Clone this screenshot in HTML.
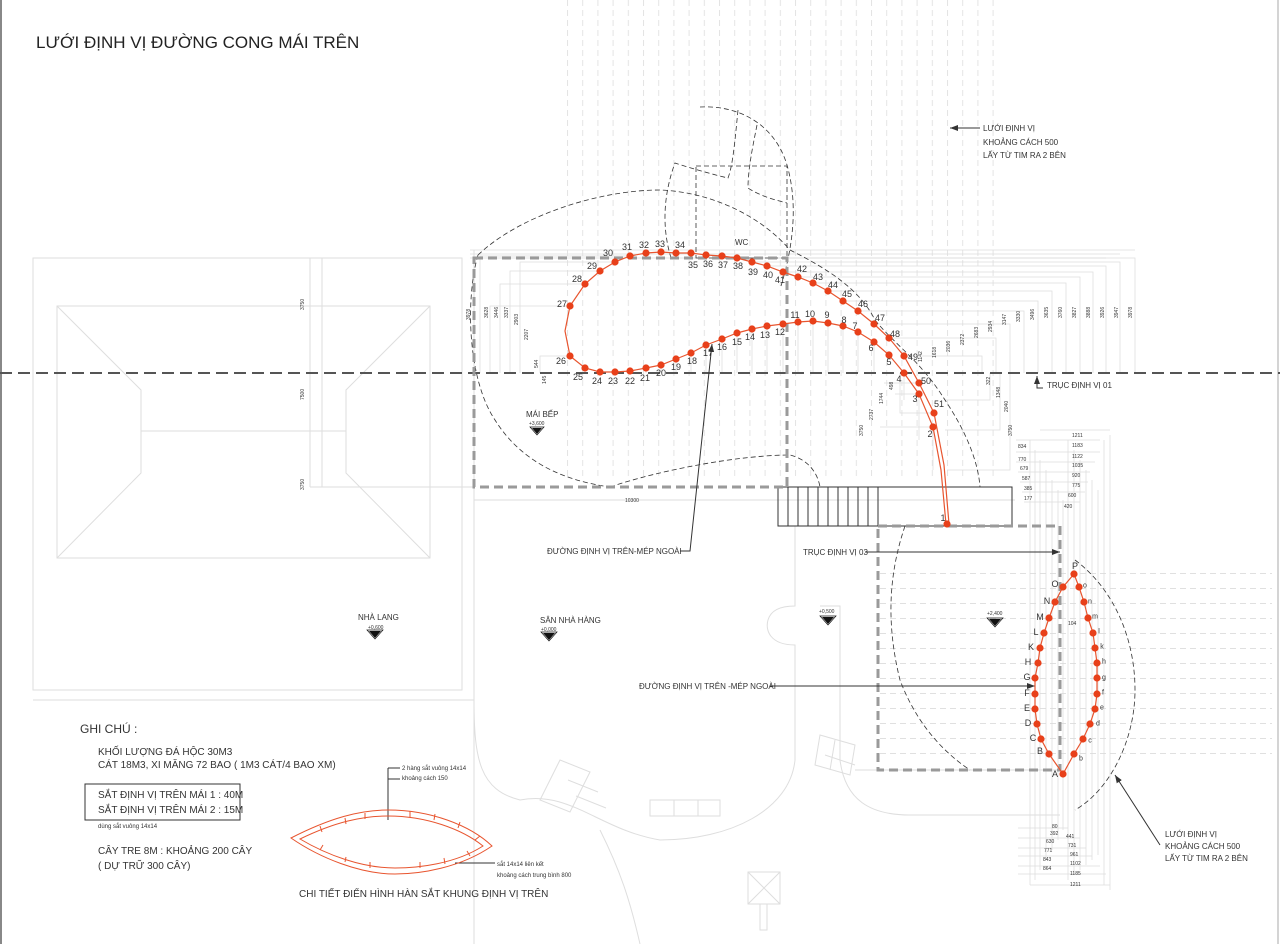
<!DOCTYPE html>
<html><head><meta charset="utf-8"><style>
html,body{margin:0;padding:0;background:#fff}
svg{display:block}
text{font-family:"Liberation Sans",sans-serif;fill:#333}
.s{font-size:9px;text-anchor:middle;dominant-baseline:central;fill:#222}
.t{font-size:5px;fill:#666}
</style></head><body>
<svg width="1280" height="944" viewBox="0 0 1280 944" xmlns="http://www.w3.org/2000/svg">
<defs>
<pattern id="vg" x="567" y="0" width="15.2" height="10" patternUnits="userSpaceOnUse">
<line x1="0.5" y1="0" x2="0.5" y2="6" stroke="#e4e4e4" stroke-width="1"/></pattern>
<pattern id="hg" x="0" y="573" width="10" height="15" patternUnits="userSpaceOnUse">
<line x1="0" y1="0.5" x2="6" y2="0.5" stroke="#e0e0e0" stroke-width="1"/></pattern>
<marker id="ar" markerWidth="8" markerHeight="6" refX="8" refY="3" orient="auto"><path d="M0,0 L8,3 L0,6 z" fill="#333"/></marker>
</defs>
<rect width="1280" height="944" fill="#fff"/>
<line x1="1" y1="0" x2="1" y2="944" stroke="#888" stroke-width="2"/>
<line x1="1278" y1="0" x2="1278" y2="944" stroke="#aaa" stroke-width="1"/>

<rect x="567" y="0" width="437" height="480" fill="url(#vg)"/>
<rect x="880" y="573" width="392" height="185" fill="url(#hg)"/>

<g fill="none" stroke="#dedede" stroke-width="1">
<rect x="33" y="258" width="429" height="432"/>
<polyline points="33,700 474,700"/>
<line x1="474" y1="250" x2="474" y2="944"/>
<rect x="57" y="306" width="373" height="252"/>
<polyline points="57,306 141,390 141,473 57,558"/>
<polyline points="430,306 346,390 346,473 430,558"/>
<line x1="141" y1="431" x2="346" y2="431"/>
<line x1="310" y1="258" x2="310" y2="487"/><line x1="322" y1="258" x2="322" y2="487"/>
<line x1="310" y1="487" x2="474" y2="487"/>
<line x1="474" y1="500" x2="1015" y2="500"/>
<path d="M474,700 C474,760 480,790 520,800 C570,790 600,830 660,840 C730,840 790,810 795,760 L795,645 C770,645 765,630 768,620 C772,606 790,606 795,606 L795,526"/>
<path d="M790,526 L795,526 M840,645 L840,760 C845,800 870,815 910,815 L1060,815"/>
<path d="M820,606 L840,606 L840,645"/>
<path d="M600,830 C620,870 630,900 640,944"/>
<path d="M560,760 l30,12 l-20,40 l-30,-12 z M568,780 l30,12 M576,796 l30,12"/>
<path d="M650,800 l70,0 l0,16 l-70,0 z M674,800 v16 M698,800 v16"/>
<path d="M820,735 l35,10 l-5,30 l-35,-10 z M835,740 l-5,30 M825,755 l30,10"/>
<rect x="748" y="872" width="32" height="32"/><path d="M748,872 L780,904 M780,872 L748,904"/>
<rect x="760" y="904" width="7" height="26"/>
<line x1="855" y1="770" x2="1060" y2="770"/>
</g>

<g fill="none" stroke="#dcdcdc" stroke-width="0.7">
<line x1="470" y1="250" x2="1135" y2="250"/>
<line x1="470" y1="254" x2="1120" y2="254"/>
<line x1="470" y1="258" x2="1106" y2="258"/>
<path d="M783,272 H1093 V373 M798,277 H1080 V373 M813,283 H1066 V373 M828,291 H1052 V373 M843,301 H1038 V373 M858,311 H1024 V373 M874,324 H1010 V373 M889,338 H996 V373 M904,356 H982 V373 M767,266 H1106 V373 M752,262 H1120 V373 M737,258 H1135 V373"/>
<path d="M919,383 H884 M934,413 H900 V373 M933,427 H880 M919,394 H895 M904,373 V400 M919,394 V440 M933,427 V470"/>
<path d="M945,400 H990 V373 M945,430 H1000 V373 M947,470 H1010 V373"/>
<path d="M600,271 H510 V373 M585,284 H500 V373 M570,306 H490 V373 M615,262 H520 V373 M570,356 H540 V373 M630,256 H480 V373"/>
<path d="M646,368 V373 M661,365 V373 M676,359 V373 M691,353 V373 M706,345 V373 M722,339 V373 M737,333 V373 M752,329 V373 M767,326 V373 M783,324 V373 M798,322 V373 M813,321 V373 M828,323 V373 M843,326 V373 M858,332 V373 M874,342 V373"/>
<path d="M1030,440 V885 M1035,450 V880 M1040,460 V870 M1046,470 V860 M1052,480 V850 M1058,490 V840 M1063,500 V830 M1068,440 V880 M1074,450 V875 M1080,460 V870 M1086,470 V865 M1092,480 V860 M1098,490 V855 M1104,440 V885 M1110,435 V890"/>
<path d="M1016,440 H1100 M1016,452 H1100 M1016,462 H1095 M1018,472 H1090 M1020,482 H1088 M1022,492 H1085 M1024,502 H1080 M1018,828 H1068 M1018,838 H1080 M1018,848 H1086 M1018,856 H1092 M1018,866 H1100 M1018,874 H1106 M1030,885 H1110"/>
<line x1="1040" y1="430" x2="1110" y2="430"/>
</g>
<g class="t">
<text x="1018" y="448">834</text><text x="1072" y="437">1211</text><text x="1072" y="447">1183</text>
<text x="1018" y="461">770</text><text x="1072" y="458">1122</text><text x="1020" y="470">679</text>
<text x="1072" y="467">1035</text><text x="1022" y="480">587</text><text x="1072" y="477">920</text>
<text x="1024" y="490">385</text><text x="1072" y="487">775</text><text x="1024" y="500">177</text>
<text x="1068" y="497">600</text><text x="1064" y="508">420</text>
<text x="1052" y="828">80</text><text x="1050" y="835">392</text><text x="1046" y="843">630</text>
<text x="1044" y="852">771</text><text x="1043" y="861">843</text><text x="1043" y="870">864</text>
<text x="1066" y="838">441</text><text x="1068" y="847">731</text><text x="1070" y="856">961</text>
<text x="1070" y="865">1102</text><text x="1070" y="875">1185</text><text x="1070" y="886">1211</text>
<text x="625" y="502">10300</text><text x="1068" y="625">104</text>
<text transform="translate(304,310) rotate(-90)">3750</text>
<text transform="translate(304,400) rotate(-90)">7500</text>
<text transform="translate(304,490) rotate(-90)">3750</text>
<text transform="translate(470,320) rotate(-90)">3978</text>
<text transform="translate(488,318) rotate(-90)">3628</text>
<text transform="translate(498,318) rotate(-90)">3446</text>
<text transform="translate(508,318) rotate(-90)">3337</text>
<text transform="translate(518,325) rotate(-90)">2903</text>
<text transform="translate(528,340) rotate(-90)">2207</text>
<text transform="translate(538,368) rotate(-90)">544</text>
<text transform="translate(546,384) rotate(-90)">145</text>
<text transform="translate(1132,318) rotate(-90)">3978</text>
<text transform="translate(1118,318) rotate(-90)">3947</text>
<text transform="translate(1104,318) rotate(-90)">3926</text>
<text transform="translate(1090,318) rotate(-90)">3888</text>
<text transform="translate(1076,318) rotate(-90)">3827</text>
<text transform="translate(1062,318) rotate(-90)">3760</text>
<text transform="translate(1048,318) rotate(-90)">3635</text>
<text transform="translate(1034,320) rotate(-90)">3496</text>
<text transform="translate(1020,322) rotate(-90)">3330</text>
<text transform="translate(1006,325) rotate(-90)">3147</text>
<text transform="translate(992,332) rotate(-90)">2934</text>
<text transform="translate(978,338) rotate(-90)">2683</text>
<text transform="translate(964,345) rotate(-90)">2372</text>
<text transform="translate(950,352) rotate(-90)">2036</text>
<text transform="translate(936,358) rotate(-90)">1618</text>
<text transform="translate(922,362) rotate(-90)">1142</text>
<text transform="translate(990,385) rotate(-90)">322</text>
<text transform="translate(1000,398) rotate(-90)">1348</text>
<text transform="translate(1008,412) rotate(-90)">2040</text>
<text transform="translate(1012,436) rotate(-90)">3750</text>
<text transform="translate(893,390) rotate(-90)">498</text>
<text transform="translate(883,404) rotate(-90)">1744</text>
<text transform="translate(873,420) rotate(-90)">2737</text>
<text transform="translate(863,436) rotate(-90)">3750</text>
</g>

<g fill="none" stroke="#333" stroke-width="0.8" stroke-dasharray="5 3">
<path d="M478,255 C520,215 600,190 660,190 C710,192 760,215 790,250 C830,270 860,290 875,320 C895,345 920,360 945,400 C965,430 978,460 980,487"/>
<path d="M478,255 C465,300 468,380 495,420 C520,460 560,480 610,487"/>
<path d="M700,107 C740,105 775,125 787,165 C797,200 795,240 781,286"/>
<path d="M738,110 C735,140 733,165 728,178 C715,175 690,168 675,163 C665,190 660,225 672,261"/>
<path d="M757,125 C752,150 748,170 748,188 C760,196 775,200 787,203"/>
<path d="M610,487 C660,470 740,455 790,455 C810,460 818,475 820,487"/>
<path d="M905,526 C890,570 885,620 900,680 C915,720 940,750 970,770"/>
<path d="M1075,560 C1115,590 1135,640 1135,690 C1135,740 1110,790 1075,810"/>
</g>
<rect x="696" y="166" width="91" height="92" fill="none" stroke="#333" stroke-width="0.8" stroke-dasharray="5 3"/>

<g fill="none" stroke="#333" stroke-width="1">
<rect x="778" y="487" width="234" height="39"/>
<path d="M788,487v39M798,487v39M808,487v39M818,487v39M828,487v39M838,487v39M848,487v39M858,487v39M868,487v39M878,487v39"/>
</g>

<line x1="0" y1="373" x2="1280" y2="373" stroke="#555" stroke-width="2" stroke-dasharray="12 6"/>

<g fill="none" stroke="#9a9a9a" stroke-width="3" stroke-dasharray="9 5">
<rect x="474" y="258" width="313" height="229"/>
<rect x="878" y="526" width="182" height="244"/>
</g>

<g fill="none" stroke="#333" stroke-width="1">
<path d="M680,551 H690 L712,344" marker-end="url(#ar)"/>
<path d="M865,552 H1060" marker-end="url(#ar)"/>
<path d="M770,686 H1035" marker-end="url(#ar)"/>
<path d="M980,128 H950" marker-end="url(#ar)"/>
<path d="M1043,388 H1037 V376" marker-end="url(#ar)"/>
<path d="M1160,845 L1115,775" marker-end="url(#ar)"/>
<path d="M388,768 V820 M388,768 H400 M388,779 H400"/>
<path d="M495,863 H455"/>
</g>

<polyline fill="none" stroke="#e8552f" stroke-width="1.2" points="946,524 941,470 933,427 919,394 904,373 889,355 874,342 858,332 843,326 828,323 813,321 798,322 783,324 767,326 752,329 737,333 722,339 706,345 691,353 676,359 661,365 646,368 630,371 615,372 600,372 585,368 570,356 565,331 570,306 585,284 600,271 615,262 630,256 646,253 661,252 676,253 691,253 706,255 722,256 737,258 752,262 767,266 783,272 798,277 813,283 828,291 843,301 858,311 874,324 889,338 904,356 919,383 934,413 944,465 949,524"/>
<g fill="#e8401a">
<circle cx="947" cy="524" r="3.6"/><circle cx="933" cy="427" r="3.6"/><circle cx="919" cy="394" r="3.6"/><circle cx="904" cy="373" r="3.6"/><circle cx="889" cy="355" r="3.6"/><circle cx="874" cy="342" r="3.6"/><circle cx="858" cy="332" r="3.6"/><circle cx="843" cy="326" r="3.6"/><circle cx="828" cy="323" r="3.6"/><circle cx="813" cy="321" r="3.6"/><circle cx="798" cy="322" r="3.6"/><circle cx="783" cy="324" r="3.6"/><circle cx="767" cy="326" r="3.6"/><circle cx="752" cy="329" r="3.6"/><circle cx="737" cy="333" r="3.6"/><circle cx="722" cy="339" r="3.6"/><circle cx="706" cy="345" r="3.6"/><circle cx="691" cy="353" r="3.6"/><circle cx="676" cy="359" r="3.6"/><circle cx="661" cy="365" r="3.6"/><circle cx="646" cy="368" r="3.6"/><circle cx="630" cy="371" r="3.6"/><circle cx="615" cy="372" r="3.6"/><circle cx="600" cy="372" r="3.6"/><circle cx="585" cy="368" r="3.6"/><circle cx="570" cy="356" r="3.6"/><circle cx="570" cy="306" r="3.6"/><circle cx="585" cy="284" r="3.6"/><circle cx="600" cy="271" r="3.6"/><circle cx="615" cy="262" r="3.6"/><circle cx="630" cy="256" r="3.6"/><circle cx="646" cy="253" r="3.6"/><circle cx="661" cy="252" r="3.6"/><circle cx="676" cy="253" r="3.6"/><circle cx="691" cy="253" r="3.6"/><circle cx="706" cy="255" r="3.6"/><circle cx="722" cy="256" r="3.6"/><circle cx="737" cy="258" r="3.6"/><circle cx="752" cy="262" r="3.6"/><circle cx="767" cy="266" r="3.6"/><circle cx="783" cy="272" r="3.6"/><circle cx="798" cy="277" r="3.6"/><circle cx="813" cy="283" r="3.6"/><circle cx="828" cy="291" r="3.6"/><circle cx="843" cy="301" r="3.6"/><circle cx="858" cy="311" r="3.6"/><circle cx="874" cy="324" r="3.6"/><circle cx="889" cy="338" r="3.6"/><circle cx="904" cy="356" r="3.6"/><circle cx="919" cy="383" r="3.6"/><circle cx="934" cy="413" r="3.6"/>
</g>
<g class="s">
<text x="943" y="518">1</text><text x="930" y="434">2</text><text x="915" y="399">3</text><text x="899" y="379">4</text><text x="889" y="362">5</text><text x="871" y="348">6</text><text x="855" y="326">7</text><text x="844" y="320">8</text><text x="827" y="315">9</text><text x="810" y="314">10</text><text x="795" y="315">11</text><text x="780" y="332">12</text><text x="765" y="335">13</text><text x="750" y="337">14</text><text x="737" y="342">15</text><text x="722" y="347">16</text><text x="708" y="353">17</text><text x="692" y="361">18</text><text x="676" y="367">19</text><text x="661" y="373">20</text><text x="645" y="378">21</text><text x="630" y="381">22</text><text x="613" y="381">23</text><text x="597" y="381">24</text><text x="578" y="377">25</text><text x="561" y="361">26</text><text x="562" y="304">27</text><text x="577" y="279">28</text><text x="592" y="266">29</text><text x="608" y="253">30</text><text x="627" y="247">31</text><text x="644" y="245">32</text><text x="660" y="244">33</text><text x="680" y="245">34</text><text x="693" y="265">35</text><text x="708" y="264">36</text><text x="723" y="265">37</text><text x="738" y="266">38</text><text x="753" y="272">39</text><text x="768" y="275">40</text><text x="780" y="280">41</text><text x="802" y="269">42</text><text x="818" y="277">43</text><text x="833" y="285">44</text><text x="847" y="294">45</text><text x="863" y="304">46</text><text x="880" y="318">47</text><text x="895" y="334">48</text><text x="913" y="357">49</text><text x="926" y="381">50</text><text x="939" y="404">51</text>
</g>

<polyline fill="none" stroke="#e8552f" stroke-width="1.2" points="1063,774 1049,754 1041,739 1037,724 1035,709 1035,694 1035,678 1038,663 1040,648 1044,633 1049,618 1055,602 1063,587 1074,574 1079,587 1084,602 1088,618 1093,633 1095,648 1097,663 1097,678 1097,694 1095,709 1090,724 1083,739 1074,754 1063,774"/>
<g fill="#e8401a">
<circle cx="1063" cy="774" r="3.6"/><circle cx="1049" cy="754" r="3.6"/><circle cx="1041" cy="739" r="3.6"/><circle cx="1037" cy="724" r="3.6"/><circle cx="1035" cy="709" r="3.6"/><circle cx="1035" cy="694" r="3.6"/><circle cx="1035" cy="678" r="3.6"/><circle cx="1038" cy="663" r="3.6"/><circle cx="1040" cy="648" r="3.6"/><circle cx="1044" cy="633" r="3.6"/><circle cx="1049" cy="618" r="3.6"/><circle cx="1055" cy="602" r="3.6"/><circle cx="1063" cy="587" r="3.6"/><circle cx="1074" cy="574" r="3.6"/><circle cx="1079" cy="587" r="3.6"/><circle cx="1084" cy="602" r="3.6"/><circle cx="1088" cy="618" r="3.6"/><circle cx="1093" cy="633" r="3.6"/><circle cx="1095" cy="648" r="3.6"/><circle cx="1097" cy="663" r="3.6"/><circle cx="1097" cy="678" r="3.6"/><circle cx="1097" cy="694" r="3.6"/><circle cx="1095" cy="709" r="3.6"/><circle cx="1090" cy="724" r="3.6"/><circle cx="1083" cy="739" r="3.6"/><circle cx="1074" cy="754" r="3.6"/>
</g>
<g class="s">
<text x="1055" y="774">A</text><text x="1040" y="751">B</text><text x="1033" y="738">C</text><text x="1028" y="723">D</text><text x="1027" y="708">E</text><text x="1027" y="693">F</text><text x="1027" y="677">G</text><text x="1028" y="662">H</text><text x="1031" y="647">K</text><text x="1036" y="632">L</text><text x="1040" y="617">M</text><text x="1047" y="601">N</text><text x="1055" y="584">O</text><text x="1075" y="566">P</text>
<g style="font-size:7px"><text x="1085" y="586">o</text><text x="1090" y="602">n</text><text x="1095" y="617">m</text><text x="1099" y="632">l</text><text x="1102" y="647">k</text><text x="1104" y="662">h</text><text x="1104" y="678">g</text><text x="1103" y="693">f</text><text x="1102" y="708">e</text><text x="1098" y="724">d</text><text x="1090" y="741">c</text><text x="1081" y="759">b</text></g>
</g>

<g fill="#111">
<path d="M532,428 h10 l-5,6 z"/><path d="M369,631 h12 l-6,7 z"/><path d="M543,633 h12 l-6,7 z"/><path d="M822,617 h12 l-6,7 z"/><path d="M989,619 h12 l-6,7 z"/>
</g>
<g fill="none" stroke="#111" stroke-width="0.7">
<path d="M530,427 h14 l-7,8 z"/><path d="M367,630 h16 l-8,9 z"/><path d="M541,632 h16 l-8,9 z"/><path d="M820,616 h16 l-8,9 z"/><path d="M987,618 h16 l-8,9 z"/>
</g>

<text x="36" y="48" style="font-size:17px;fill:#222">LƯỚI  ĐỊNH VỊ ĐƯỜNG CONG MÁI TRÊN</text>
<g style="font-size:8px;fill:#333">
<text x="735" y="245">WC</text>
<text x="526" y="417">MÁI BẾP</text><text x="529" y="425" style="font-size:5px">+3,600</text>
<text x="358" y="620">NHÀ LANG</text><text x="368" y="629" style="font-size:5px">+0,600</text>
<text x="540" y="623">SÂN NHÀ HÀNG</text><text x="541" y="631" style="font-size:5px">+0,000</text>
<text x="819" y="613" style="font-size:5px">+0,500</text><text x="987" y="615" style="font-size:5px">+2,400</text>
<text x="547" y="554">ĐƯỜNG ĐỊNH VỊ TRÊN-MÉP NGOÀI</text>
<text x="803" y="555">TRỤC ĐỊNH VỊ 03</text>
<text x="639" y="689">ĐƯỜNG ĐỊNH VỊ  TRÊN -MÉP NGOÀI</text>
<text x="983" y="131">LƯỚI ĐỊNH VỊ</text><text x="983" y="145">KHOẢNG CÁCH 500</text><text x="983" y="158">LẤY TỪ TIM RA 2 BÊN</text>
<text x="1047" y="388">TRỤC ĐỊNH VỊ 01</text>
<text x="1165" y="837">LƯỚI ĐỊNH VỊ</text><text x="1165" y="849">KHOẢNG CÁCH 500</text><text x="1165" y="861">LẤY TỪ TIM RA 2 BÊN</text>
</g>

<g style="font-size:10px;fill:#333">
<text x="80" y="733" style="font-size:12px">GHI CHÚ :</text>
<text x="98" y="755">KHỐI LƯỢNG ĐÁ HỘC 30M3</text>
<text x="98" y="768">CÁT 18M3,  XI MĂNG 72 BAO ( 1M3 CÁT/4 BAO XM)</text>
<text x="98" y="798">SẮT ĐỊNH VỊ TRÊN MÁI 1 : 40M</text>
<text x="98" y="813">SẮT ĐỊNH VỊ TRÊN MÁI 2 : 15M</text>
<text x="98" y="828" style="font-size:6px">dùng sắt vuông 14x14</text>
<text x="98" y="854">CÂY TRE 8M : KHOẢNG 200 CÂY</text>
<text x="98" y="869">( DỰ TRỮ 300 CÂY)</text>
<text x="299" y="897">CHI TIẾT ĐIỂN HÌNH HÀN SẮT KHUNG ĐỊNH VỊ TRÊN</text>
<g style="font-size:6px">
<text x="402" y="770">2 hàng sắt vuông 14x14</text><text x="402" y="780">khoảng cách 150</text>
<text x="497" y="866">sắt 14x14 liên kết</text><text x="497" y="877">khoảng cách trung bình 800</text>
</g>
</g>
<rect x="85" y="784" width="155" height="36" fill="none" stroke="#333" stroke-width="1"/>

<g fill="none" stroke="#e8552f" stroke-width="1">
<path d="M291,838 C330,818 360,810 388,810 C430,810 470,825 492,846 C460,868 420,874 395,874 C360,874 320,858 291,838 z"/>
<path d="M300,839 C335,822 362,816 388,816 C426,816 462,829 483,846 C455,864 418,868 395,868 C362,868 327,855 300,839 z"/>
<path d="M320,826 l2,6 M345,818 l1,6 M365,813 v6 M410,811 v6 M435,814 l-1,6 M460,822 l-2,6 M480,836 l-5,4 M320,850 l3,-5 M345,862 l1,-5 M370,868 v-6 M420,868 v-6 M445,864 l-1,-6 M470,856 l-3,-5"/>
</g>
</svg>
</body></html>
